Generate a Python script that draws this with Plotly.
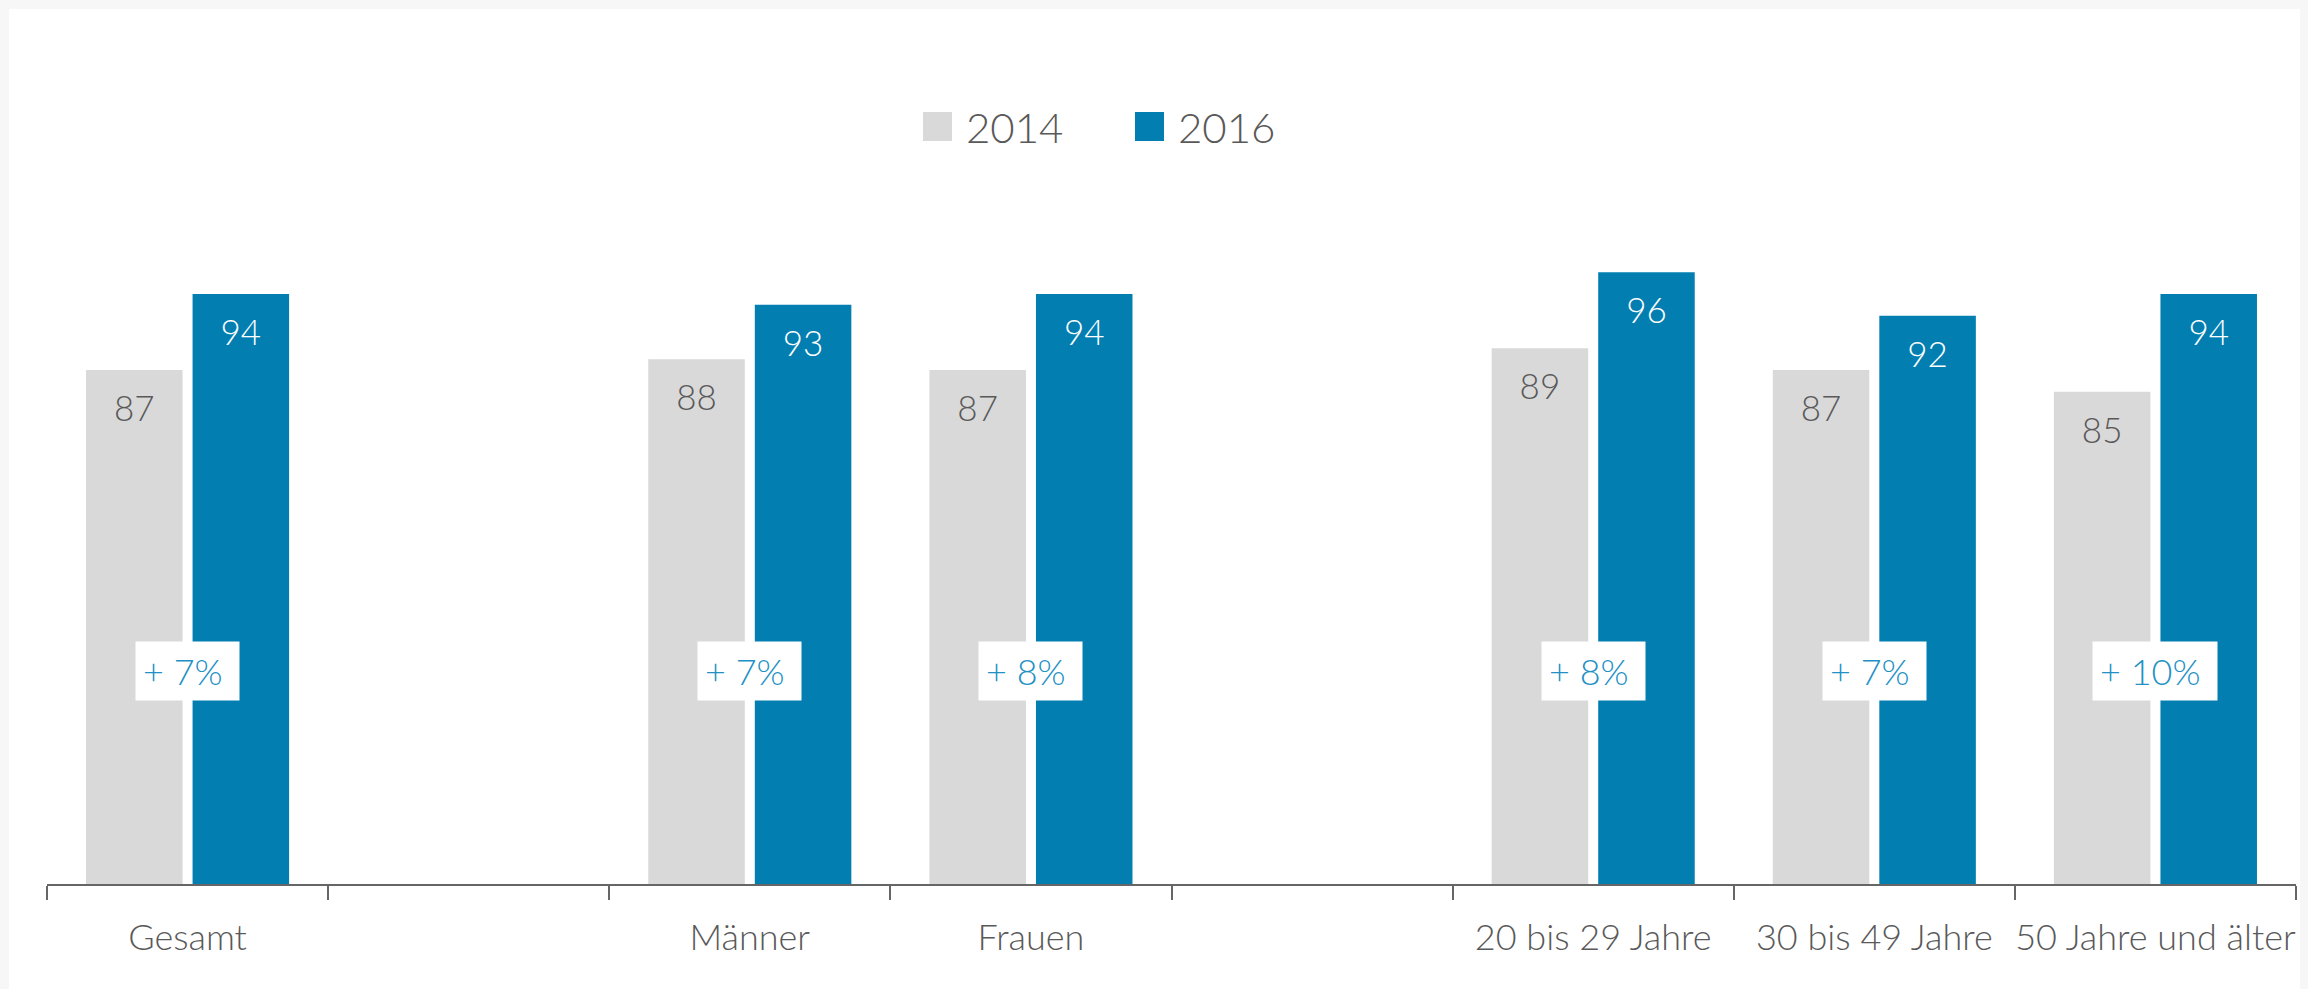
import plotly.graph_objects as go

categories = ["Gesamt", " ", "Männer", "Frauen", "  ",
              "20 bis 29 Jahre", "30 bis 49 Jahre", "50 Jahre und älter"]
v2014 = [87, None, 88, 87, None, 89, 87, 85]
v2016 = [94, None, 93, 94, None, 96, 92, 94]
change = [7, None, 7, 8, None, 8, 7, 10]
series_names = ["2014", "2016"]

GREY = "#d9d9d9"
BLUE = "#027eb1"
TXT = "#595959"
FONT = "Lato"

W, H = 2308, 989
OFF = 8  # default page body margin in the browser
# plot area in page pixels
P_L, P_R, P_T, P_B = 47, 2296, 232, 884
ML = P_L - OFF
MR = W - (P_R - OFF)
MT = P_T - OFF
MB = H - (P_B - OFF)
PW = W - ML - MR
PH = H - MT - MB

def px_x(px):
    return (px - OFF - ML) / PW

def px_y(py):
    return (H - MB - (py - OFF)) / PH

fig = go.Figure()

for name, vals, col, grp in [(series_names[0], v2014, GREY, "a"),
                             (series_names[1], v2016, BLUE, "b")]:
    fig.add_trace(go.Bar(
        x=categories, y=vals, name=name, marker=dict(color=col, line=dict(width=0)),
        offsetgroup=grp, showlegend=False, hoverinfo="x+y",
    ))

for vals, tcol, grp in [(v2014, TXT, "a"), (v2016, "white", "b")]:
    fig.add_trace(go.Scatter(
        x=categories, y=vals, mode="markers+text",
        text=[("" if v is None else str(v)) for v in vals],
        textposition="bottom center",
        textfont=dict(family=FONT, size=35, color=tcol, weight=300),
        marker=dict(size=38, color="rgba(0,0,0,0)"),
        offsetgroup=grp, showlegend=False, hoverinfo="skip",
    ))

# change labels
for c, ch in zip(categories, change):
    if ch is None:
        continue
    fig.add_annotation(
        x=c, xref="x", y=px_y(671), yref="paper", xanchor="center", yanchor="middle",
        text=f"+ {ch}%\u00a0", showarrow=False,
        font=dict(family=FONT, size=36, color="#2190c4", weight=300),
        bgcolor="white", borderpad=7,
    )

# legend
legend_items = [(series_names[0], GREY, 923, 964), (series_names[1], BLUE, 1135, 1176)]
for name, col, sx, tx in legend_items:
    fig.add_shape(type="rect", xref="paper", yref="paper",
                  x0=px_x(sx), x1=px_x(sx + 29), y0=px_y(141), y1=px_y(112),
                  fillcolor=col, line=dict(width=0))
    fig.add_annotation(x=px_x(tx), y=px_y(127), xref="paper", yref="paper",
                       xanchor="left", yanchor="middle", text=name, showarrow=False,
                       font=dict(family=FONT, size=42, color=TXT, weight=300))

# outer light-grey frame with white card
fig.add_shape(type="rect", xref="paper", yref="paper", layer="below",
              x0=px_x(9), x1=px_x(W + 20), y0=px_y(H + 20), y1=px_y(9),
              fillcolor="white", line=dict(width=0))

fig.update_layout(
    width=W, height=H,
    margin=dict(l=ML, r=MR, t=MT, b=MB, autoexpand=False),
    paper_bgcolor="#f7f7f7", plot_bgcolor="rgba(0,0,0,0)",
    barmode="group", bargap=0.242, bargroupgap=0.094,
    scattermode="group", scattergap=0.242,
    showlegend=False,
    font=dict(family=FONT, color=TXT),
    xaxis=dict(
        type="category", categoryorder="array", categoryarray=categories,
        tickson="boundaries", ticks="outside", ticklen=14, tickwidth=1.5,
        tickcolor="#666666", showline=True, linecolor="#666666", linewidth=1.5,
        showgrid=False, zeroline=False, tickangle=0, automargin=False,
        tickfont=dict(family=FONT, size=36, color=TXT, weight=300),
        ticklabelstandoff=21,
    ),
    yaxis=dict(visible=False, range=[39.7, 99.7], showgrid=False, zeroline=False,
               automargin=False),
)

fig.write_html("out.html",
               post_script="document.body.style.background='#f7f7f7';")
